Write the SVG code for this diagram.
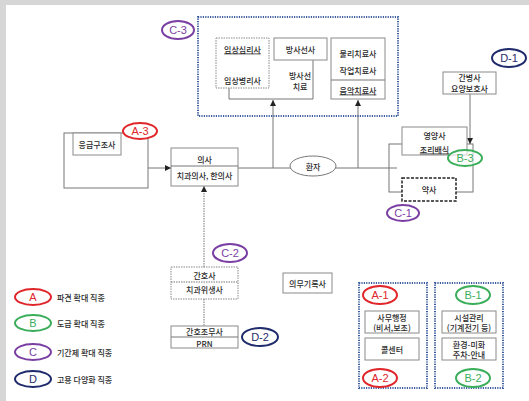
<svg xmlns="http://www.w3.org/2000/svg" width="529" height="401" viewBox="0 0 529 401">
<defs>
<style>
text{font-family:"Noto Sans CJK KR","Noto Sans",sans-serif;font-size:8px;fill:#2a2a2a;text-anchor:middle;dominant-baseline:central;font-weight:500}
.box{fill:#fff;stroke:#8a8a8a;stroke-width:1}
.dotbox{fill:#fff;stroke:#8a8a8a;stroke-width:1;stroke-dasharray:1.5 1}
.grp{fill:none;stroke:#3b5c9e;stroke-width:2;stroke-dasharray:1.2 1.2}
.ln{fill:none;stroke:#777;stroke-width:1}
.ov{fill:#fff;stroke-width:2}
.ol{font-family:"Liberation Sans Narrow","Liberation Sans",sans-serif;font-size:11px;font-weight:normal}
.r{stroke:#e0262a}.rt{fill:#e0262a}
.g{stroke:#3aae5a}.gt{fill:#3aae5a}
.p{stroke:#7a3fa3}.pt{fill:#7a3fa3}
.n{stroke:#1f2b6b}.nt{fill:#1f2b6b}
.u{text-decoration:underline}
</style>
<marker id="ah" viewBox="0 0 6 6" refX="6" refY="3" markerWidth="6" markerHeight="6" orient="auto" markerUnits="userSpaceOnUse">
<path d="M0,0 L6,3 L0,6 z" fill="#222"/>
</marker>
</defs>
<rect x="0" y="0" width="529" height="401" fill="#d6d6d6"/>
<rect x="6" y="5" width="523" height="396" fill="#fff"/>

<g id="connectors">
<line class="ln" x1="238" y1="168" x2="397" y2="168"/>
<line class="ln" x1="273" y1="168" x2="273" y2="100" marker-end="url(#ah)"/>
<line class="ln" x1="358" y1="168" x2="358" y2="100" marker-end="url(#ah)"/>
<polyline class="ln" points="229,88 229,99 313,99 313,60"/>
<rect class="ln" x="64" y="133" width="84" height="55"/>
<line class="ln" x1="148" y1="168" x2="171" y2="168" marker-end="url(#ah)"/>
<rect class="ln" x="389" y="144" width="84" height="48"/>
<line class="ln" x1="470" y1="94" x2="470" y2="144" marker-end="url(#ah)"/>
<line class="ln" x1="204" y1="267" x2="204" y2="186" stroke-dasharray="1.5 1" marker-end="url(#ah)"/>
<line class="ln" x1="204" y1="299" x2="204" y2="326" stroke-dasharray="1.5 1"/>
</g>

<g id="c3-group">
<rect class="grp" x="198" y="17" width="200" height="99"/>
<ellipse class="ov p" cx="178" cy="30" rx="16" ry="9"/>
<text class="ol pt" x="178" y="30">C-3</text>
</g>
<g id="node-clinical-psych">
<rect class="dotbox" x="216" y="38" width="53" height="50"/>
<text class="u" x="242.5" y="49">임상심리사</text>
<text x="242.5" y="80">임상병리사</text>
</g>
<g id="node-radiology">
<rect class="box" x="274" y="38" width="53" height="22"/>
<text x="300.5" y="49">방사선사</text>
<text x="300" y="75">방사선</text>
<text x="300" y="86">치료</text>
</g>
<g id="node-therapy">
<rect class="box" x="331" y="38" width="54" height="61"/>
<line class="ln" x1="331" y1="80" x2="385" y2="80"/>
<text x="358" y="53">물리치료사</text>
<text x="358" y="70">작업치료사</text>
<text class="u" x="358" y="90">음악치료사</text>
</g>

<g id="node-emt">
<rect class="box" x="73" y="133" width="48" height="22"/>
<text x="97" y="144">응급구조사</text>
<ellipse class="ov r" cx="140" cy="131" rx="17" ry="8"/>
<text class="ol rt" x="140" y="131">A-3</text>
</g>
<g id="node-doctor">
<rect class="box" x="171" y="148" width="67" height="38"/>
<line class="ln" x1="171" y1="166" x2="238" y2="166"/>
<text x="204.5" y="159">의사</text>
<text x="204.5" y="175">치과의사, 한의사</text>
</g>
<g id="node-patient">
<ellipse cx="313" cy="166" rx="23" ry="10" fill="#fff" stroke="#777" stroke-width="1"/>
<text x="313" y="166" font-size="9">환자</text>
</g>

<g id="node-caregiver">
<rect class="box" x="443" y="72" width="53" height="22"/>
<text x="469.5" y="77.5">간병사</text>
<text x="469.5" y="88">요양보호사</text>
<ellipse class="ov n" cx="509" cy="58" rx="17" ry="9"/>
<text class="ol nt" x="509" y="58">D-1</text>
</g>
<g id="node-nutrition">
<rect class="box" x="402" y="127" width="65" height="28"/>
<text x="434.5" y="135">영양사</text>
<text class="u" x="434.5" y="149">조리배식</text>
<ellipse class="ov g" cx="465" cy="158" rx="17" ry="8" fill-opacity="0.6"/>
<text class="ol gt" x="465" y="158">B-3</text>
</g>
<g id="node-pharmacist">
<rect x="402" y="178" width="54" height="23" fill="#fff" stroke="#222" stroke-width="1.5" stroke-dasharray="3 1.5"/>
<text x="429" y="189.5">약사</text>
<ellipse class="ov p" cx="403" cy="213" rx="16" ry="8"/>
<text class="ol pt" x="403" y="213">C-1</text>
</g>

<g id="node-nurse">
<ellipse class="ov p" cx="230" cy="253" rx="17" ry="9"/>
<text class="ol pt" x="230" y="253">C-2</text>
<rect class="dotbox" x="171" y="267" width="67" height="32"/>
<line class="ln" x1="171" y1="282" x2="238" y2="282" stroke-dasharray="1.5 1"/>
<text x="204.5" y="275">간호사</text>
<text x="204.5" y="289.5">치과위생사</text>
</g>
<g id="node-assistant">
<rect class="box" x="171" y="326" width="67" height="22"/>
<line class="ln" x1="171" y1="337" x2="238" y2="337"/>
<text x="204.5" y="331.5">간호조무사</text>
<text x="204.5" y="343">PRN</text>
<ellipse class="ov n" cx="260" cy="337" rx="18" ry="9"/>
<text class="ol nt" x="260" y="337">D-2</text>
</g>
<g id="node-records">
<rect class="box" x="283" y="273" width="49" height="20"/>
<text x="307.5" y="283">의무기록사</text>
</g>

<g id="group-a">
<rect class="grp" x="359" y="283" width="68" height="105"/>
<ellipse class="ov r" cx="380" cy="295" rx="17" ry="9"/>
<text class="ol rt" x="380" y="295">A-1</text>
<rect class="box" x="365" y="311" width="54" height="22"/>
<text x="392" y="317">사무행정</text>
<text x="392" y="327.5">(비서,보조)</text>
<rect class="box" x="365" y="338" width="54" height="22"/>
<text x="392" y="349">콜센터</text>
<ellipse class="ov r" cx="380" cy="378" rx="17" ry="9"/>
<text class="ol rt" x="380" y="378">A-2</text>
</g>
<g id="group-b">
<rect class="grp" x="435" y="283" width="68" height="105"/>
<ellipse class="ov g" cx="473" cy="295" rx="17" ry="9"/>
<text class="ol gt" x="473" y="295">B-1</text>
<rect class="box" x="442" y="311" width="54" height="22"/>
<text x="469" y="317">시설관리</text>
<text x="469" y="327.5">(기계전기 등)</text>
<rect class="box" x="442" y="338" width="54" height="22"/>
<text x="469" y="344">환경-미화</text>
<text x="469" y="354.5">주차-안내</text>
<ellipse class="ov g" cx="473" cy="378" rx="17" ry="9"/>
<text class="ol gt" x="473" y="378">B-2</text>
</g>

<g id="legend">
<ellipse class="ov r" cx="33" cy="297" rx="18" ry="8"/>
<text class="ol rt" x="33" y="297">A</text>
<text x="57" y="297" style="text-anchor:start">파견 확대 직종</text>
<ellipse class="ov g" cx="33" cy="323" rx="18" ry="8"/>
<text class="ol gt" x="33" y="323">B</text>
<text x="57" y="323" style="text-anchor:start">도급 확대 직종</text>
<ellipse class="ov p" cx="33" cy="352" rx="18" ry="8"/>
<text class="ol pt" x="33" y="352">C</text>
<text x="57" y="352" style="text-anchor:start">기간제 확대 직종</text>
<ellipse class="ov n" cx="33" cy="379" rx="18" ry="8"/>
<text class="ol nt" x="33" y="379">D</text>
<text x="57" y="379" style="text-anchor:start">고용 다양화 직종</text>
</g>
</svg>
